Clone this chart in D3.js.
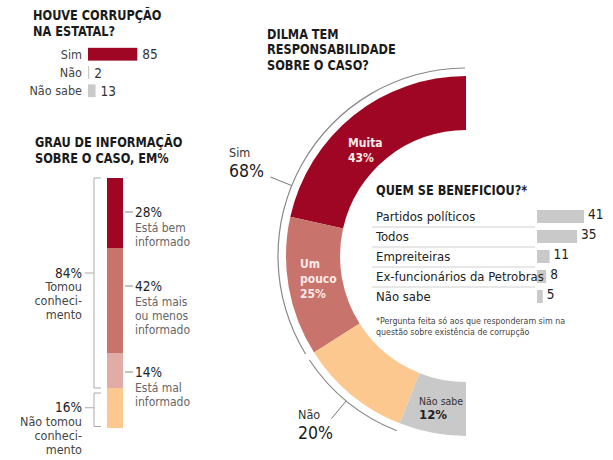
<!DOCTYPE html>
<html><head><meta charset="utf-8">
<script src="https://cdn.jsdelivr.net/npm/d3@7"></script>
<style>
body{margin:0;background:#fff}
svg text{font-family:"Liberation Sans Narrow","DejaVu Sans Condensed","Roboto",sans-serif;font-stretch:condensed}
.ttl{font-weight:bold;fill:#1a1a1a;font-size:14.5px}
</style></head><body><svg id="c" width="613" height="460"></svg>
<script>
// ---------- DATA ----------
const corrTitle = ["HOUVE CORRUPÇÃO","NA ESTATAL?"];
const corrCats = ["Sim","Não","Não sabe"];
const corrVals = [85,2,13];

const infoTitle = ["GRAU DE INFORMAÇÃO","SOBRE O CASO, EM%"];
const infoCats = ["Está bem informado","Está mais ou menos informado","Está mal informado","Não tomou conhecimento"];
const infoVals = [28,42,14,16];
const infoLabelLines = [["Está bem","informado"],["Está mais","ou menos","informado"],["Está mal","informado"]];
const infoGroups = ["Tomou conhecimento","Não tomou conhecimento"];
const infoGroupVals = [84,16];
const infoGroupLines = [["Tomou","conheci-","mento"],["Não tomou","conheci-","mento"]];

const dilmaTitle = ["DILMA TEM","RESPONSABILIDADE","SOBRE O CASO?"];
const dilmaCats = ["Muita","Um pouco","Não","Não sabe"];
const dilmaVals = [43,25,20,12];
const dilmaLabelLines = [["Muita"],["Um","pouco"],[],["Não sabe"]];
const dilmaGroups = ["Sim","Não"];
const dilmaGroupVals = [68,20];

const benefTitle = ["QUEM SE BENEFICIOU?*"];
const benefCats = ["Partidos políticos","Todos","Empreiteiras","Ex-funcionários da Petrobras","Não sabe"];
const benefVals = [41,35,11,8,5];
const benefNote = ["*Pergunta feita só aos que responderam sim na","questão sobre existência de corrupção"];

// ---------- STYLE ----------
const RED="#9e0624", PINK="#c8736b", LPINK="#e2aca6", ORANGE="#fdc88f", GREY="#c9c9c9";
const svg = d3.select("#c");

function title(lines,x,y,lh){
  const g=svg.append("g").attr("transform",`translate(${x},${y}) scale(0.87,1)`);
  lines.forEach((l,i)=>g.append("text").attr("class","ttl").attr("x",0).attr("y",i*lh).text(l));
}

// ---------- 1. Houve corrupção ----------
title(corrTitle,33,20,16);
const x1 = d3.scaleLinear().domain([0,100]).range([88,88+58]);
const y1 = d3.scaleBand().domain(corrCats).range([46,99]).paddingInner(0.3).paddingOuter(0.1);
const g1 = svg.append("g");
g1.selectAll("rect").data(corrVals).join("rect")
  .attr("x",x1(0)).attr("y",(d,i)=>y1(corrCats[i]))
  .attr("width",d=>x1(d)-x1(0)).attr("height",y1.bandwidth())
  .attr("fill",(d,i)=>i===0?RED:GREY);
g1.selectAll("text.cat").data(corrCats).join("text").attr("class","cat")
  .attr("x",82).attr("y",d=>y1(d)+y1.bandwidth()/2+4.5)
  .attr("text-anchor","end").attr("font-size","12.5px").attr("fill","#444").text(d=>d);
g1.selectAll("text.val").data(corrVals).join("text").attr("class","val")
  .attr("x",d=>x1(d)+5).attr("y",(d,i)=>y1(corrCats[i])+y1.bandwidth()/2+5)
  .attr("font-size","13.5px").attr("fill","#333").text(d=>d);

// ---------- 2. Grau de informação ----------
title(infoTitle,35,147,16);
const y2 = d3.scaleLinear().domain([0,100]).range([178,428]);
const stackCols=[RED,PINK,LPINK,ORANGE];
let cum=0; const segs=infoVals.map((v,i)=>{const s={i,v,a:cum,b:cum+v};cum+=v;return s;});
const g2=svg.append("g");
g2.selectAll("rect").data(segs).join("rect")
  .attr("x",107).attr("width",16)
  .attr("y",d=>y2(d.a)).attr("height",d=>y2(d.b)-y2(d.a))
  .attr("fill",d=>stackCols[d.i]);
// right labels
const labelDy=[39,43,24]; // baseline offset from segment top
segs.slice(0,3).forEach((s,i)=>{
  const by=y2(s.a)+labelDy[i];
  g2.append("line").attr("x1",125).attr("x2",133).attr("y1",by-5).attr("y2",by-5).attr("stroke","#888");
  g2.append("text").attr("x",135).attr("y",by).attr("font-size","13.5px").attr("fill","#222").text(s.v+"%");
  infoLabelLines[i].forEach((l,j)=>g2.append("text").attr("x",135).attr("y",by+14.5+j*14)
    .attr("font-size","12px").attr("fill","#666").text(l));
});
// brackets
let gc=0;
const grp=infoGroupVals.map((v,i)=>{const s={i,v,a:gc,b:gc+v};gc+=v;return s;});
grp.forEach((s,i)=>{
  const top=y2(s.a)+(i===0?0:5), bot=y2(s.b)-(i===0?0:1.5);
  g2.append("path").attr("d",`M101,${top}H94V${bot}H101`).attr("fill","none").attr("stroke","#aaa");
  const ly = i===0 ? 273 : (top+bot)/2-2;
  g2.append("line").attr("x1",85).attr("x2",94).attr("y1",ly).attr("y2",ly).attr("stroke","#aaa");
  g2.append("text").attr("x",82).attr("y",ly+4.5).attr("text-anchor","end")
    .attr("font-size","13.5px").attr("fill","#222").text(s.v+"%");
  infoGroupLines[i].forEach((l,j)=>g2.append("text").attr("x",82).attr("y",ly+18+j*14)
    .attr("text-anchor","end").attr("font-size","12.5px").attr("fill","#444").text(l));
});

// ---------- 3. Dilma donut ----------
title(dilmaTitle,267,39,15.5);
const cx=466, cy=256, R=180, r=126, RL=188;
const pie=d3.pie().sort(null).startAngle(0).endAngle(-Math.PI);
const arcs=pie(dilmaVals);
const arc=d3.arc().innerRadius(r).outerRadius(R);
const donutCols=[RED,PINK,ORANGE,GREY];
const g3=svg.append("g").attr("transform",`translate(${cx},${cy})`);
g3.selectAll("path.sl").data(arcs).join("path").attr("class","sl")
  .attr("d",arc).attr("fill",(d,i)=>donutCols[i]);
// group thin arcs
const thin=d3.arc().innerRadius(RL-0.6).outerRadius(RL+0.6);
const deg=Math.PI/180;
let ga=0; const gArcs=dilmaGroupVals.map((v,i)=>{const s={a:ga,b:ga+v};ga+=v;return s;});
const toAng=p=>-p/100*Math.PI;
const gStart=[0.3,1.2], gEnd=[-1.0,0];
gArcs.forEach((s,i)=>{
  g3.append("path").attr("d",thin({startAngle:toAng(s.a)-gStart[i]*deg,endAngle:toAng(s.b)-gEnd[i]*deg})).attr("fill","#888");
});
// leaders
const leadAng=[68, (gArcs[1].a+gArcs[1].b)/2/100*180];
const pt=(a,rad)=>[-rad*Math.sin(a*deg), -rad*Math.cos(a*deg)];
leadAng.forEach(a=>{
  const p1=pt(a,RL), p2=pt(a,RL+23);
  g3.append("line").attr("x1",p1[0]).attr("y1",p1[1]).attr("x2",p2[0]).attr("y2",p2[1]).attr("stroke","#777");
});
const grpLabelPos=[[229,157],[298,419]];
dilmaGroups.forEach((n,i)=>{
  svg.append("text").attr("x",grpLabelPos[i][0]).attr("y",grpLabelPos[i][1]).attr("font-size","12.5px").attr("fill","#333").text(n);
  svg.append("text").attr("x",grpLabelPos[i][0]).attr("y",grpLabelPos[i][1]+20).attr("font-size","17.5px").attr("fill","#1a1a1a").text(dilmaGroupVals[i]+"%");
});
// inner labels
const inPos=[[348,147],[300,268],null,[419,405]];
arcs.forEach((d,i)=>{
  if(!inPos[i]) return;
  const col = i===3?"#333":"#fbe9e9";
  const lines=dilmaLabelLines[i];
  lines.forEach((l,j)=>svg.append("text").attr("x",inPos[i][0]).attr("y",inPos[i][1]+j*15)
    .attr("font-size",i===3?"10.5px":"12px").attr("font-weight",i===3?"normal":"bold").attr("fill",col).text(l));
  svg.append("text").attr("x",inPos[i][0]).attr("y",inPos[i][1]+lines.length*(i===3?14:15))
    .attr("font-size",i===3?"13px":"12px").attr("font-weight","bold").attr("fill",i===3?"#222":col).text(dilmaVals[i]+"%");
});

// ---------- 4. Quem se beneficiou ----------
title(benefTitle,376,195,15);
const y4=d3.scaleBand().domain(benefCats).range([207,307]);
const x4=d3.scaleLinear().domain([0,41]).range([537,584]);
const g4=svg.append("g");
g4.selectAll("line").data(benefCats.slice(0,4)).join("line")
  .attr("x1",372).attr("x2",535).attr("y1",d=>y4(d)+y4.bandwidth()).attr("y2",d=>y4(d)+y4.bandwidth())
  .attr("stroke","#d0d0d0");
g4.selectAll("rect").data(benefVals).join("rect")
  .attr("x",x4(0)).attr("y",(d,i)=>y4(benefCats[i])+3).attr("height",13)
  .attr("width",d=>x4(d)-x4(0)).attr("fill",GREY);
g4.selectAll("text.c").data(benefCats).join("text").attr("class","c")
  .attr("x",376).attr("y",d=>y4(d)+14).attr("font-size","13px").attr("fill","#222").text(d=>d);
g4.selectAll("text.v").data(benefVals).join("text").attr("class","v")
  .attr("x",d=>x4(d)+4).attr("y",(d,i)=>y4(benefCats[i])+12).attr("font-size","13.5px").attr("fill","#222").text(d=>d);
benefNote.forEach((l,j)=>svg.append("text").attr("x",376).attr("y",324+j*10.5)
  .attr("font-size","8.8px").attr("fill","#444").text(l));
</script></body></html>
